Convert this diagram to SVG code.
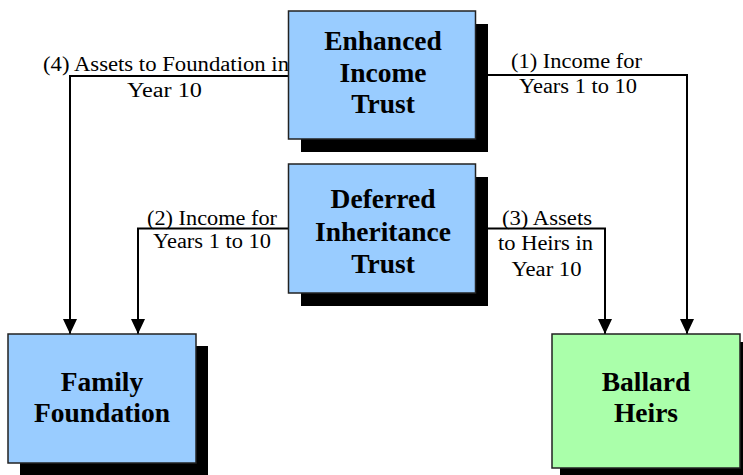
<svg xmlns="http://www.w3.org/2000/svg" width="743" height="475" viewBox="0 0 743 475">
<style>
.lbl{font-family:'Liberation Serif',serif;font-size:20px;fill:#000}
.ttl{font-family:'Liberation Serif',serif;font-size:27.5px;font-weight:bold;fill:#000;text-anchor:middle}
.con{fill:none;stroke:#000;stroke-width:2}
.shadow{fill:#000}
.blue{fill:#99CCFF;stroke:#222;stroke-width:1.5}
.green{fill:#AAFFAA;stroke:#222;stroke-width:1.5}
</style>
<defs>
<marker id="arr" markerWidth="15" markerHeight="14" refX="15" refY="7" orient="auto" markerUnits="userSpaceOnUse" viewBox="0 0 15 14">
<path d="M0,0 L15,7 L0,14 Z" fill="#000"/>
</marker>
</defs>
<g id="connectors">
<path class="con" d="M289,76 H70 V334" marker-end="url(#arr)"/>
<path class="con" d="M475,75 H687 V334" marker-end="url(#arr)"/>
<path class="con" d="M289,228.5 H138 V334" marker-end="url(#arr)"/>
<path class="con" d="M475,228.5 H605 V334" marker-end="url(#arr)"/>
</g>
<g id="labels">
<text class="lbl" font-family="Liberation Serif" x="43" y="71" textLength="246" lengthAdjust="spacingAndGlyphs">(4) Assets to Foundation in</text>
<text class="lbl" x="127" y="96.5" textLength="75" lengthAdjust="spacingAndGlyphs">Year 10</text>
<text class="lbl" x="511" y="68" textLength="131" lengthAdjust="spacingAndGlyphs">(1) Income for</text>
<text class="lbl" x="519" y="93" textLength="118" lengthAdjust="spacingAndGlyphs">Years 1 to 10</text>
<text class="lbl" x="147" y="225" textLength="130" lengthAdjust="spacingAndGlyphs">(2) Income for</text>
<text class="lbl" x="153" y="248" textLength="118" lengthAdjust="spacingAndGlyphs">Years 1 to 10</text>
<text class="lbl" x="502" y="225" textLength="90" lengthAdjust="spacingAndGlyphs">(3) Assets</text>
<text class="lbl" x="498" y="249.5" textLength="95" lengthAdjust="spacingAndGlyphs">to Heirs in</text>
<text class="lbl" x="511.5" y="275.5" textLength="70" lengthAdjust="spacingAndGlyphs">Year 10</text>
</g>
<g id="enhanced-income-trust">
<rect class="shadow" x="301" y="24" width="187" height="128"/>
<rect class="blue" x="288.5" y="11" width="187" height="128"/>
<text class="ttl" x="383" y="50">Enhanced</text>
<text class="ttl" x="383" y="81.5">Income</text>
<text class="ttl" x="383" y="113">Trust</text>
</g>
<g id="deferred-inheritance-trust">
<rect class="shadow" x="301" y="177" width="187" height="129"/>
<rect class="blue" x="288.5" y="164" width="187" height="129"/>
<text class="ttl" x="383" y="208">Deferred</text>
<text class="ttl" x="383" y="241">Inheritance</text>
<text class="ttl" x="383" y="273">Trust</text>
</g>
<g id="family-foundation">
<rect class="shadow" x="20" y="346" width="188" height="129"/>
<rect class="blue" x="8" y="334" width="188" height="129"/>
<text class="ttl" x="102" y="391">Family</text>
<text class="ttl" x="102" y="421.5">Foundation</text>
</g>
<g id="ballard-heirs">
<rect class="shadow" x="560" y="342" width="188" height="134"/>
<rect class="green" x="552" y="334" width="188" height="134"/>
<text class="ttl" x="646" y="391">Ballard</text>
<text class="ttl" x="646" y="421.5">Heirs</text>
</g>
</svg>
